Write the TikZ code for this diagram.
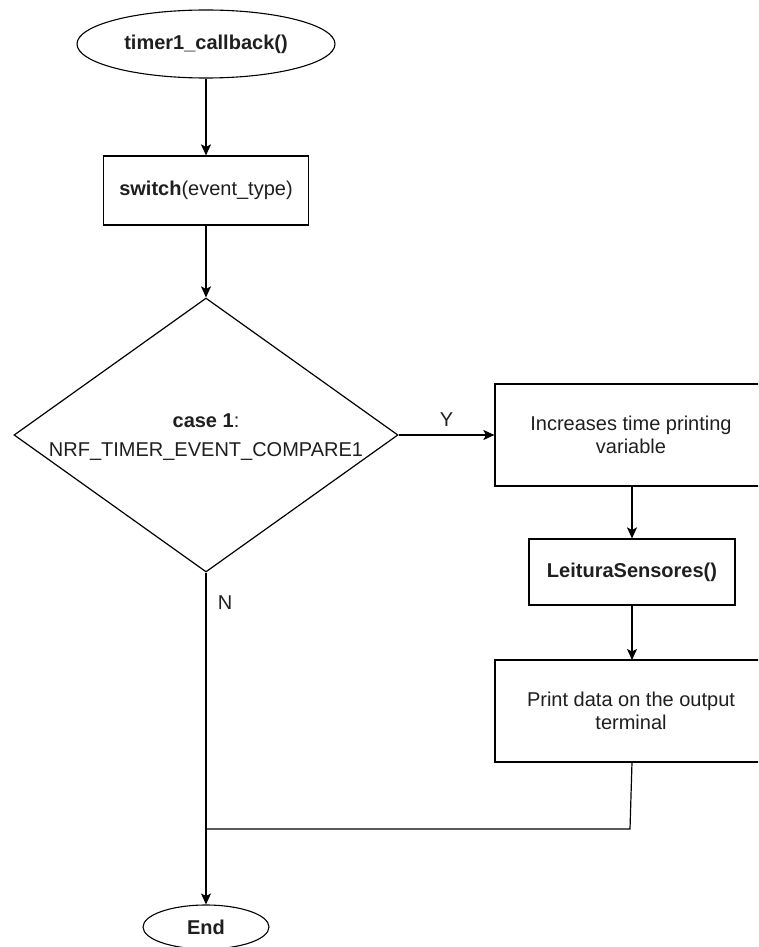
\documentclass[tikz,border=0pt]{standalone}
\usepackage{fontspec}
\setmainfont{Liberation Sans}
\usetikzlibrary{shapes.geometric,arrows.meta}

\begin{document}
\begin{tikzpicture}[x=1pt,y=-1pt,
  every node/.style={font=\fontsize{20}{23}\selectfont, text=black!88},
  flow/.style={line width=1.2pt, draw=black},
  arr/.style={flow, -{Stealth[length=11pt,width=10pt,inset=2.5pt]}},
  terminal/.style={ellipse, draw, line width=1.1pt, inner sep=0pt},
  process/.style={rectangle, draw, line width=1.2pt, inner sep=0pt, align=center},
  decision/.style={diamond, draw, line width=1.2pt, inner sep=0pt},
  tag/.style={inner sep=0pt}
]
\useasboundingbox (0,0) rectangle (758,947);
\clip (0,0) rectangle (758,947);
\fill[white] (0,0) rectangle (758,947);

% main column
\node[terminal, minimum width=258pt, minimum height=68pt] (start) at (206,44) {\textbf{timer1\_callback()}};
\node[process, minimum width=205pt, minimum height=69pt] (sw) at (206,190.5) {\textbf{switch}(event\_type)};
\node[decision, minimum width=384pt, minimum height=274pt] (dec) at (206,435) {};
\node[align=center, inner sep=0pt] (dectext) at (206,437) {\textbf{case 1}:\\[6pt]NRF\_TIMER\_EVENT\_COMPARE1};
\node[terminal, minimum width=126pt, minimum height=44pt] (fin) at (206,927) {\textbf{End}};

% right column
\node[process, minimum width=272pt, minimum height=102pt] (inc) at (631,435) {Increases time printing\\variable};
\node[process, minimum width=206pt, minimum height=66pt] (leit) at (632,572) {\textbf{LeituraSensores()}};
\node[process, minimum width=272pt, minimum height=102pt] (prt) at (631,711) {Print data on the output\\terminal};

% junction points of the return line
\coordinate (r1) at (630,829);
\coordinate (r2) at (206,829);

% connectors
\draw[arr] (start.south) -- (sw.north);
\draw[arr] (sw.south) -- (dec.north);
\draw[arr] (dec.east) -- node[tag, above=8pt] (ylab) {Y} (inc.west);
\draw[arr] (632,486) -- (leit.north);
\draw[arr] (leit.south) -- (632,660);
\draw[arr] (dec.south) -- (fin.north);
\draw[flow] (632,762) -- (r1) -- (r2);

\node[tag] (nlab) at (225,603) {N};
\end{tikzpicture}
\end{document}
